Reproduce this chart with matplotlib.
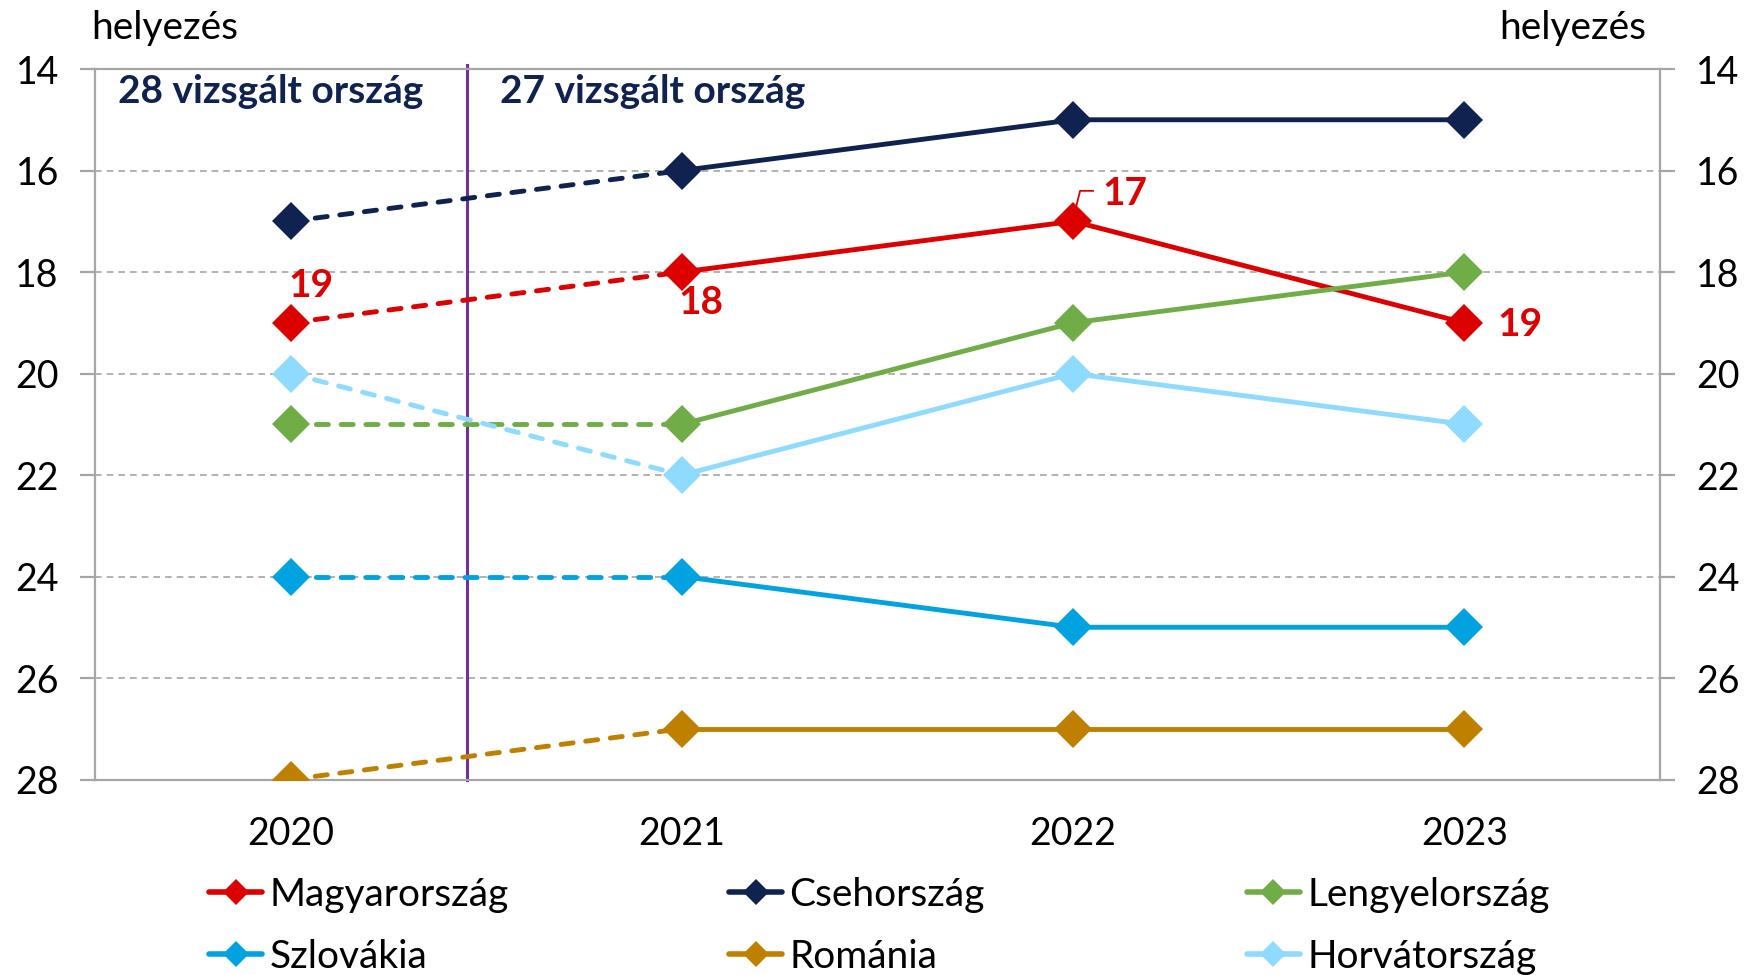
import matplotlib
matplotlib.use("Agg")
import matplotlib.pyplot as plt
from matplotlib.lines import Line2D

plt.rcParams['font.family'] = ['Lato', 'DejaVu Sans']

years = ["2020", "2021", "2022", "2023"]

hun = [19, 18, 17, 19]
cze = [17, 16, 15, 15]
pol = [21, 21, 19, 18]
svk = [24, 24, 25, 25]
rou = [28, 27, 27, 27]
hrv = [20, 22, 20, 21]

names = ["Magyarország", "Csehország", "Lengyelország",
         "Szlovákia", "Románia", "Horvátország"]
colors = ["#DD0000", "#0F2250", "#70AD47", "#00A3E0", "#BF8000", "#8FDBFF"]
series = [hun, cze, pol, svk, rou, hrv]

# labels shown for Hungary: (year index, text, offset in points)
hun_labels = [(0, "19", (15, 27)), (1, "18", (14, -22)),
              (2, "17", (37, 20)), (3, "19", (40, -1))]

divider_x = 0.45
grey = "#A6A6A6"
navy = "#0F2250"

fig = plt.figure(figsize=(17.46, 9.75), dpi=100)
ax = fig.add_axes([0.0544, 0.2005, 0.8963, 0.7287])

x = list(range(len(years)))
lw = 3.5
for vals, col in zip(series, colors):
    # 2020 -> 2021 dashed (different country set), afterwards solid
    ax.plot(x[:2], vals[:2], color=col, lw=lw, ls=(0, (2.5, 2.6)),
            dash_capstyle='round', zorder=3)
    ax.plot(x[1:], vals[1:], color=col, lw=lw, solid_capstyle='round', zorder=3)
    ax.plot(x, vals, ls='none', marker='D', ms=19, color=col,
            markeredgewidth=0, zorder=4)

ax.axvline(divider_x, ymin=0, ymax=1.006, color="#7030A0", lw=2.2,
           clip_on=False, zorder=2)

for i, txt, off in hun_labels:
    ax.annotate(txt, (x[i], hun[i]), xytext=off, textcoords='offset points',
                ha='center', va='center', fontsize=28, fontweight='bold',
                color=colors[0], zorder=5)

# leader line for the 2022 label
ax.plot([2.007, 2.018, 2.051], [16.74, 16.40, 16.40], color=colors[0],
        lw=1.3, zorder=5)

ax.text(-0.44, 14.45, "28 vizsgált ország", fontsize=28, fontweight='bold',
        color=navy, ha='left', va='center')
ax.text(0.535, 14.45, "27 vizsgált ország", fontsize=28, fontweight='bold',
        color=navy, ha='left', va='center')

ax.set_xlim(-0.5, 3.5)
ax.set_ylim(28, 14)
ax.set_xticks(x)
ax.set_xticklabels(years)
ax.set_yticks(range(14, 29, 2))

ax.grid(axis='y', color=grey, ls=(0, (4, 3)), lw=1.2)
ax.set_axisbelow(True)
for sp in ax.spines.values():
    sp.set_color(grey)
    sp.set_linewidth(1.6)

ax.tick_params(axis='y', which='both', direction='out', length=11, width=1.6,
               color=grey, labelsize=27, left=True, right=True,
               labelleft=True, labelright=True, pad=15)
ax.tick_params(axis='x', length=0, labelsize=27, pad=26)

fig.text(0.0945, 0.971, "helyezés", fontsize=28, ha='center', va='center')
fig.text(0.901, 0.971, "helyezés", fontsize=28, ha='center', va='center')

# legend: three columns, two rows
handles = [Line2D([], [], color=c, lw=4, marker='D', ms=13,
                  markeredgewidth=0, solid_capstyle='round') for c in colors]
col_x = [0.1199, 0.4177, 0.7143]
for k in range(3):
    leg = fig.legend([handles[k], handles[k + 3]], [names[k], names[k + 3]],
                     loc='upper left', bbox_to_anchor=(col_x[k], 0.1005),
                     frameon=False, fontsize=28, handlelength=1.35,
                     handletextpad=0.2, labelspacing=0.67,
                     borderaxespad=0, borderpad=0)

fig.savefig("out.png", dpi=100)
